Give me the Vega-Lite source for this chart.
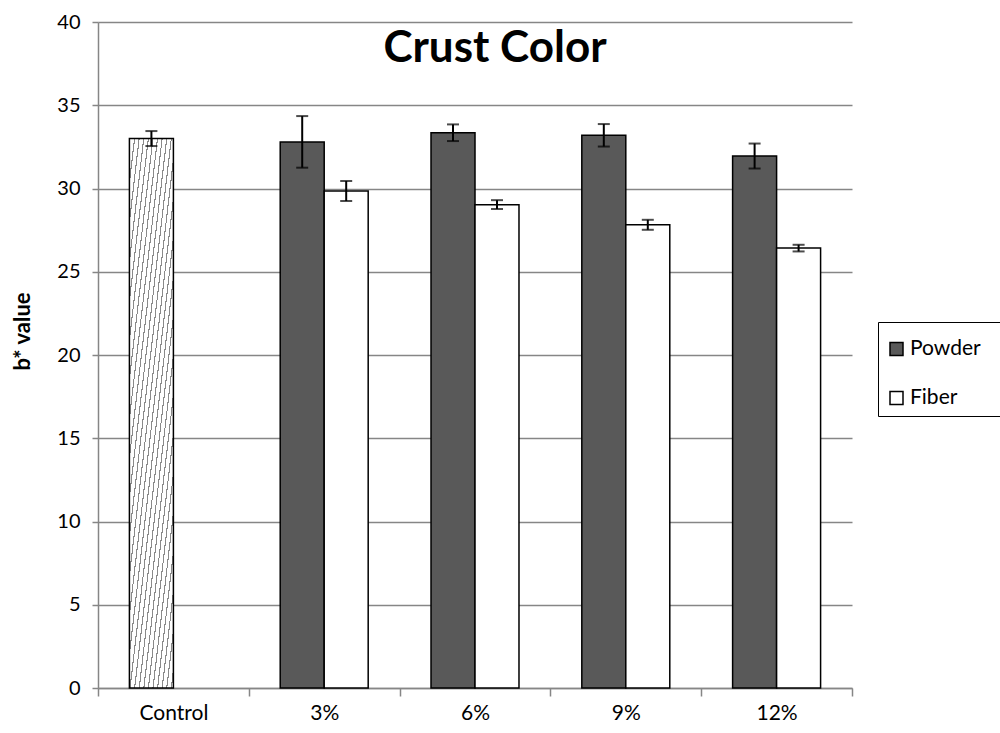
{
  "$schema": "https://vega.github.io/schema/vega-lite/v6.json",
  "width": 754,
  "height": 666,
  "autosize": {"type": "none"},
  "padding": {"left": 98, "top": 22, "right": 148, "bottom": 45},
  "background": "white",
  "title": {
    "text": "Crust Color",
    "font": "Lato",
    "fontSize": 44,
    "fontWeight": "bold",
    "color": "black",
    "anchor": "middle",
    "baseline": "top",
    "offset": -59,
    "dx": 20
  },
  "config": {
    "view": {"stroke": null},
    "font": "Lato"
  },
  "data": {
    "values": [
      {"group": "Control", "series": "Control", "slot": "a", "value": 33.0, "lo": 32.55, "hi": 33.45},
      {"group": "3%", "series": "Powder", "slot": "a", "value": 32.8, "lo": 31.25, "hi": 34.35},
      {"group": "3%", "series": "Fiber", "slot": "b", "value": 29.85, "lo": 29.25, "hi": 30.45},
      {"group": "6%", "series": "Powder", "slot": "a", "value": 33.35, "lo": 32.85, "hi": 33.85},
      {"group": "6%", "series": "Fiber", "slot": "b", "value": 29.03, "lo": 28.77, "hi": 29.3},
      {"group": "9%", "series": "Powder", "slot": "a", "value": 33.2, "lo": 32.52, "hi": 33.87},
      {"group": "9%", "series": "Fiber", "slot": "b", "value": 27.82, "lo": 27.52, "hi": 28.12},
      {"group": "12%", "series": "Powder", "slot": "a", "value": 31.95, "lo": 31.2, "hi": 32.7},
      {"group": "12%", "series": "Fiber", "slot": "b", "value": 26.42, "lo": 26.22, "hi": 26.62}
    ]
  },
  "encoding": {
    "x": {
      "field": "group",
      "type": "nominal",
      "sort": ["Control", "3%", "6%", "9%", "12%"],
      "scale": {"paddingInner": 0, "paddingOuter": 0},
      "axis": {
        "title": null,
        "labelAngle": 0,
        "labelFontSize": 21,
        "labelColor": "black",
        "labelPadding": 6,
        "domainColor": "#868686",
        "domainWidth": 1.5,
        "tickColor": "#868686",
        "tickWidth": 1.5,
        "tickSize": 8,
        "tickBand": "extent",
        "grid": false
      }
    },
    "xOffset": {
      "field": "slot",
      "type": "nominal",
      "sort": ["a", "b"],
      "scale": {"paddingInner": 0, "paddingOuter": 0.714}
    }
  },
  "layer": [
    {
      "transform": [{"filter": "datum.series !== 'Control'"}],
      "mark": {"type": "bar", "stroke": "black", "strokeWidth": 1.5},
      "encoding": {
        "y": {
          "field": "value",
          "type": "quantitative",
          "scale": {"domain": [0, 40]},
          "axis": {
            "values": [0, 5, 10, 15, 20, 25, 30, 35, 40],
            "title": "b* value",
            "titleFontSize": 22,
            "titleFontWeight": "bold",
            "titleColor": "black",
            "titleAngle": -90,
            "titleAlign": "center",
            "titleBaseline": "middle",
            "titleX": -76,
            "titleY": 309,
            "labelFontSize": 20,
            "labelColor": "black",
            "labelPadding": 12,
            "domainColor": "#868686",
            "domainWidth": 1.5,
            "tickColor": "#868686",
            "tickWidth": 1.5,
            "tickSize": 6,
            "grid": true,
            "gridColor": "#868686",
            "gridWidth": 1.5
          }
        },
        "color": {
          "field": "series",
          "type": "nominal",
          "scale": {"domain": ["Powder", "Fiber"], "range": ["#595959", "#ffffff"]},
          "legend": {
            "title": " ",
            "titleFontSize": 6,
            "titlePadding": 2.5,
            "orient": "none",
            "legendX": 780,
            "legendY": 300,
            "strokeColor": "black",
            "padding": 8,
            "symbolType": "square",
            "symbolSize": 169,
            "symbolStrokeColor": "black",
            "symbolStrokeWidth": 1.5,
            "labelFontSize": 21,
            "labelColor": "black",
            "labelOffset": 3,
            "rowPadding": 27,
            "fillColor": "white",
            "labelExpr": "datum.label + '\u2002\u2800'"
          }
        }
      }
    },
    {
      "transform": [{"filter": "datum.series === 'Control'"}],
      "mark": {
        "type": "bar",
        "stroke": "black",
        "strokeWidth": 1.5,
        "fill": {
          "gradient": "linear",
          "x1": 0, "y1": 0, "x2": 1, "y2": 1.46,
          "stops": [
            {"offset": 0, "color": "#8a8a8a"}, {"offset": 0.008, "color": "#8a8a8a"}, {"offset": 0.008, "color": "#ffffff"}, {"offset": 0.0333, "color": "#ffffff"},
            {"offset": 0.0333, "color": "#8a8a8a"}, {"offset": 0.0413, "color": "#8a8a8a"}, {"offset": 0.0413, "color": "#ffffff"}, {"offset": 0.0667, "color": "#ffffff"},
            {"offset": 0.0667, "color": "#8a8a8a"}, {"offset": 0.0747, "color": "#8a8a8a"}, {"offset": 0.0747, "color": "#ffffff"}, {"offset": 0.1, "color": "#ffffff"},
            {"offset": 0.1, "color": "#8a8a8a"}, {"offset": 0.108, "color": "#8a8a8a"}, {"offset": 0.108, "color": "#ffffff"}, {"offset": 0.1333, "color": "#ffffff"},
            {"offset": 0.1333, "color": "#8a8a8a"}, {"offset": 0.1413, "color": "#8a8a8a"}, {"offset": 0.1413, "color": "#ffffff"}, {"offset": 0.1667, "color": "#ffffff"},
            {"offset": 0.1667, "color": "#8a8a8a"}, {"offset": 0.1747, "color": "#8a8a8a"}, {"offset": 0.1747, "color": "#ffffff"}, {"offset": 0.2, "color": "#ffffff"},
            {"offset": 0.2, "color": "#8a8a8a"}, {"offset": 0.208, "color": "#8a8a8a"}, {"offset": 0.208, "color": "#ffffff"}, {"offset": 0.2333, "color": "#ffffff"},
            {"offset": 0.2333, "color": "#8a8a8a"}, {"offset": 0.2413, "color": "#8a8a8a"}, {"offset": 0.2413, "color": "#ffffff"}, {"offset": 0.2667, "color": "#ffffff"},
            {"offset": 0.2667, "color": "#8a8a8a"}, {"offset": 0.2747, "color": "#8a8a8a"}, {"offset": 0.2747, "color": "#ffffff"}, {"offset": 0.3, "color": "#ffffff"},
            {"offset": 0.3, "color": "#8a8a8a"}, {"offset": 0.308, "color": "#8a8a8a"}, {"offset": 0.308, "color": "#ffffff"}, {"offset": 0.3333, "color": "#ffffff"},
            {"offset": 0.3333, "color": "#8a8a8a"}, {"offset": 0.3413, "color": "#8a8a8a"}, {"offset": 0.3413, "color": "#ffffff"}, {"offset": 0.3667, "color": "#ffffff"},
            {"offset": 0.3667, "color": "#8a8a8a"}, {"offset": 0.3747, "color": "#8a8a8a"}, {"offset": 0.3747, "color": "#ffffff"}, {"offset": 0.4, "color": "#ffffff"},
            {"offset": 0.4, "color": "#8a8a8a"}, {"offset": 0.408, "color": "#8a8a8a"}, {"offset": 0.408, "color": "#ffffff"}, {"offset": 0.4333, "color": "#ffffff"},
            {"offset": 0.4333, "color": "#8a8a8a"}, {"offset": 0.4413, "color": "#8a8a8a"}, {"offset": 0.4413, "color": "#ffffff"}, {"offset": 0.4667, "color": "#ffffff"},
            {"offset": 0.4667, "color": "#8a8a8a"}, {"offset": 0.4747, "color": "#8a8a8a"}, {"offset": 0.4747, "color": "#ffffff"}, {"offset": 0.5, "color": "#ffffff"},
            {"offset": 0.5, "color": "#8a8a8a"}, {"offset": 0.508, "color": "#8a8a8a"}, {"offset": 0.508, "color": "#ffffff"}, {"offset": 0.5333, "color": "#ffffff"},
            {"offset": 0.5333, "color": "#8a8a8a"}, {"offset": 0.5413, "color": "#8a8a8a"}, {"offset": 0.5413, "color": "#ffffff"}, {"offset": 0.5667, "color": "#ffffff"},
            {"offset": 0.5667, "color": "#8a8a8a"}, {"offset": 0.5747, "color": "#8a8a8a"}, {"offset": 0.5747, "color": "#ffffff"}, {"offset": 0.6, "color": "#ffffff"},
            {"offset": 0.6, "color": "#8a8a8a"}, {"offset": 0.608, "color": "#8a8a8a"}, {"offset": 0.608, "color": "#ffffff"}, {"offset": 0.6333, "color": "#ffffff"},
            {"offset": 0.6333, "color": "#8a8a8a"}, {"offset": 0.6413, "color": "#8a8a8a"}, {"offset": 0.6413, "color": "#ffffff"}, {"offset": 0.6667, "color": "#ffffff"},
            {"offset": 0.6667, "color": "#8a8a8a"}, {"offset": 0.6747, "color": "#8a8a8a"}, {"offset": 0.6747, "color": "#ffffff"}, {"offset": 0.7, "color": "#ffffff"},
            {"offset": 0.7, "color": "#8a8a8a"}, {"offset": 0.708, "color": "#8a8a8a"}, {"offset": 0.708, "color": "#ffffff"}, {"offset": 0.7333, "color": "#ffffff"},
            {"offset": 0.7333, "color": "#8a8a8a"}, {"offset": 0.7413, "color": "#8a8a8a"}, {"offset": 0.7413, "color": "#ffffff"}, {"offset": 0.7667, "color": "#ffffff"},
            {"offset": 0.7667, "color": "#8a8a8a"}, {"offset": 0.7747, "color": "#8a8a8a"}, {"offset": 0.7747, "color": "#ffffff"}, {"offset": 0.8, "color": "#ffffff"},
            {"offset": 0.8, "color": "#8a8a8a"}, {"offset": 0.808, "color": "#8a8a8a"}, {"offset": 0.808, "color": "#ffffff"}, {"offset": 1, "color": "#ffffff"}
          ]
        }
      },
      "encoding": {
        "y": {"field": "value", "type": "quantitative"}
      }
    },
    {
      "mark": {"type": "rule", "color": "black", "strokeWidth": 2},
      "encoding": {
        "y": {"field": "lo", "type": "quantitative"},
        "y2": {"field": "hi"}
      }
    },
    {
      "mark": {"type": "tick", "color": "black", "thickness": 2, "size": 12},
      "encoding": {
        "y": {"field": "lo", "type": "quantitative"}
      }
    },
    {
      "mark": {"type": "tick", "color": "black", "thickness": 2, "size": 12},
      "encoding": {
        "y": {"field": "hi", "type": "quantitative"}
      }
    }
  ]
}
